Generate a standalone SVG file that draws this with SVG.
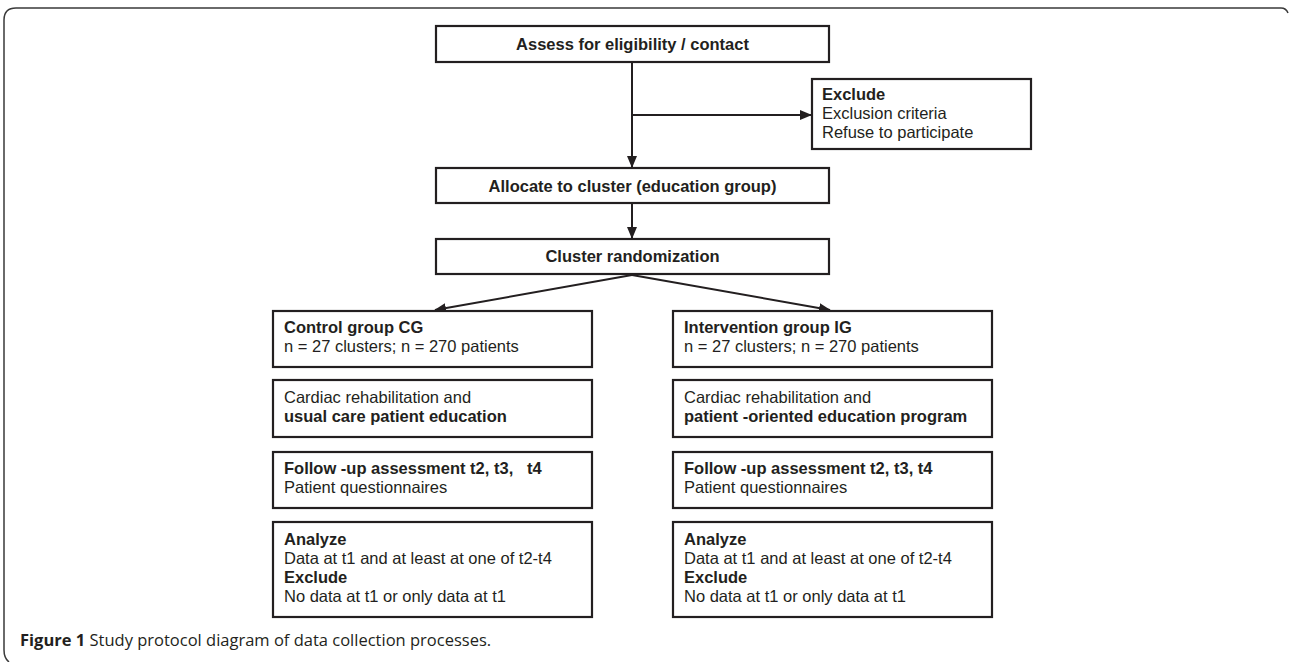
<svg xmlns="http://www.w3.org/2000/svg" width="1290" height="662" viewBox="0 0 1290 662">
<style>
.box{fill:#fff;stroke:#231f20;stroke-width:2.2}
.t{font-family:"Liberation Sans",Arial,sans-serif;font-size:16.5px;fill:#231f20}
.b{font-weight:bold}
.c{text-anchor:middle}
.ln{stroke:#231f20;stroke-width:2;fill:none}
.cap{font-family:"Open Sans","Liberation Sans",sans-serif;font-size:16.5px;fill:#231f20}
</style>
<defs>
<marker id="ah" markerWidth="12" markerHeight="10" refX="11" refY="5" orient="auto" markerUnits="userSpaceOnUse">
<path d="M0,0 L12,5 L0,10 Z" fill="#231f20"/>
</marker>
</defs>
<rect width="1290" height="662" fill="#fff"/>
<path d="M9 662 Q4 658 4 650 L4 20 Q4 8 16 8 L1281 8 Q1286 8 1288 13" fill="none" stroke="#3a3a3a" stroke-width="1.5"/>
<g id="connectors">
<line class="ln" x1="632" y1="62" x2="632" y2="167" marker-end="url(#ah)"/>
<line class="ln" x1="632" y1="115" x2="811" y2="115" marker-end="url(#ah)"/>
<line class="ln" x1="632" y1="203" x2="632" y2="238" marker-end="url(#ah)"/>
<line class="ln" x1="632" y1="275" x2="435" y2="310" marker-end="url(#ah)"/>
<line class="ln" x1="632" y1="275" x2="830" y2="310" marker-end="url(#ah)"/>
</g>
<g id="assess">
<rect class="box" x="436" y="26" width="393" height="36"/>
<text class="t b c" x="632.5" y="50">Assess for eligibility / contact</text>
</g>
<g id="exclude">
<rect class="box" x="812" y="79" width="219" height="70"/>
<text class="t b" x="822" y="100">Exclude</text>
<text class="t" x="822" y="119">Exclusion criteria</text>
<text class="t" x="822" y="138">Refuse to participate</text>
</g>
<g id="allocate">
<rect class="box" x="436" y="168" width="393" height="35"/>
<text class="t b c" x="632.5" y="192">Allocate to cluster (education group)</text>
</g>
<g id="randomization">
<rect class="box" x="436" y="239" width="393" height="35"/>
<text class="t b c" x="632.5" y="262">Cluster randomization</text>
</g>
<g id="cg">
<rect class="box" x="273" y="311" width="319" height="56"/>
<text class="t b" x="284" y="333">Control group CG</text>
<text class="t" x="284" y="352">n = 27 clusters; n = 270 patients</text>
</g>
<g id="cg-edu">
<rect class="box" x="273" y="380" width="319" height="57"/>
<text class="t" x="284" y="403">Cardiac rehabilitation and</text>
<text class="t b" x="284" y="422">usual care patient education</text>
</g>
<g id="cg-follow">
<rect class="box" x="273" y="452" width="319" height="56"/>
<text class="t b" x="284" y="474" xml:space="preserve">Follow -up assessment t2, t3,   t4</text>
<text class="t" x="284" y="493">Patient questionnaires</text>
</g>
<g id="cg-analyze">
<rect class="box" x="273" y="522" width="319" height="95"/>
<text class="t b" x="284" y="545">Analyze</text>
<text class="t" x="284" y="564">Data at t1 and at least at one of t2-t4</text>
<text class="t b" x="284" y="583">Exclude</text>
<text class="t" x="284" y="602">No data at t1 or only data at t1</text>
</g>
<g id="ig">
<rect class="box" x="673" y="311" width="319" height="56"/>
<text class="t b" x="684" y="333">Intervention group IG</text>
<text class="t" x="684" y="352">n = 27 clusters; n = 270 patients</text>
</g>
<g id="ig-edu">
<rect class="box" x="673" y="380" width="319" height="57"/>
<text class="t" x="684" y="403">Cardiac rehabilitation and</text>
<text class="t b" x="684" y="422">patient -oriented education program</text>
</g>
<g id="ig-follow">
<rect class="box" x="673" y="452" width="319" height="56"/>
<text class="t b" x="684" y="474">Follow -up assessment t2, t3, t4</text>
<text class="t" x="684" y="493">Patient questionnaires</text>
</g>
<g id="ig-analyze">
<rect class="box" x="673" y="522" width="319" height="95"/>
<text class="t b" x="684" y="545">Analyze</text>
<text class="t" x="684" y="564">Data at t1 and at least at one of t2-t4</text>
<text class="t b" x="684" y="583">Exclude</text>
<text class="t" x="684" y="602">No data at t1 or only data at t1</text>
</g>
<text class="cap" x="20" y="646"><tspan font-weight="bold">Figure 1</tspan> Study protocol diagram of data collection processes.</text>
</svg>
